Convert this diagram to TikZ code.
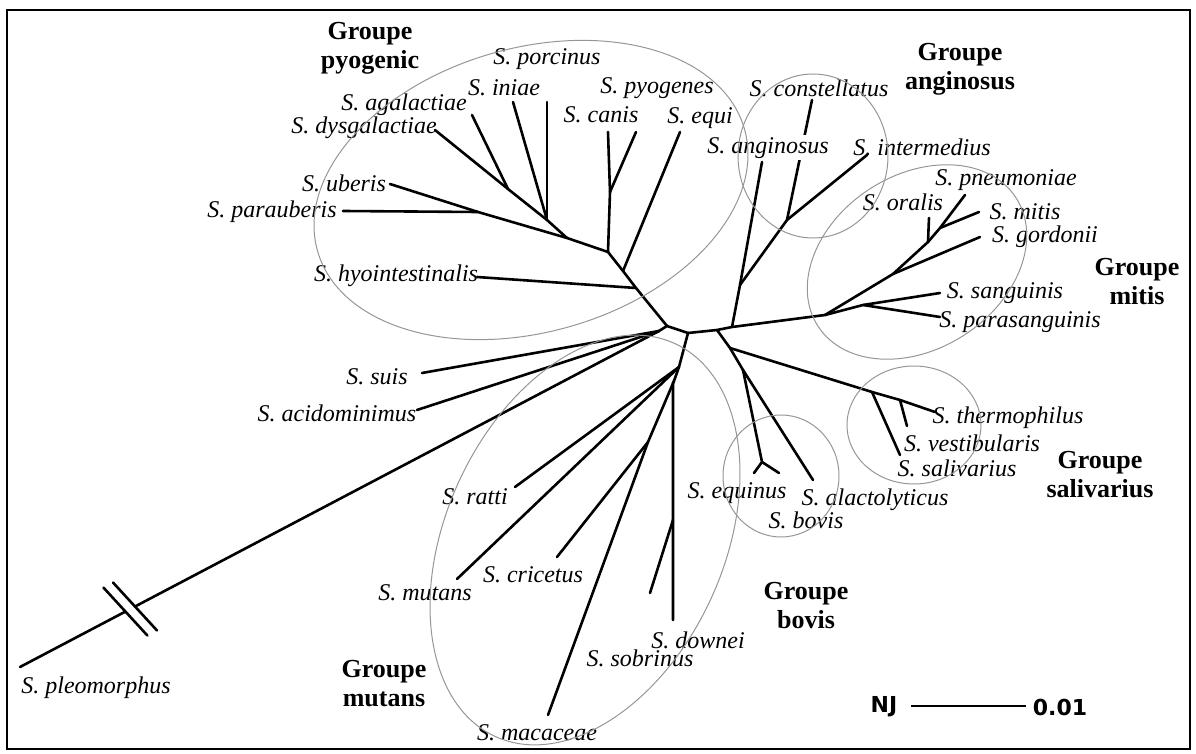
\documentclass[tikz,border=0pt]{standalone}
\usepackage{fontspec}
\setmainfont{Liberation Serif}
\newfontfamily\njfont{DejaVu Sans}
\usepackage{tikz}
\usetikzlibrary{arrows,shapes,positioning,calc}
\definecolor{ringgray}{RGB}{150,150,150}
\tikzstyle{branch} = [line width=1.3pt, line cap=round, color=black]
\tikzstyle{species} = [inner sep=1pt, font=\fontsize{12}{14}\selectfont\itshape]
\tikzstyle{groupe} = [align=center, inner sep=1pt, font=\fontsize{13}{14.5}\selectfont\bfseries]
\tikzstyle{ring} = [line width=0.5pt, color=ringgray]
\tikzstyle{scalelabel} = [inner sep=1pt, font=\njfont\fontsize{11}{12}\selectfont\bfseries]

\begin{document}
\begin{tikzpicture}[x=0.5pt, y=-0.5pt]
\useasboundingbox (0,0) rectangle (1196,754);
\draw[line width=1.1pt] (7,10) rectangle (1190,749);

% Centre
\coordinate (A) at (667,326);
\coordinate (B) at (688,333);
\coordinate (J) at (659,331);
\draw[branch] (J) -- (A) -- (B);

% Groupe pyogenic
\coordinate (H) at (636,288);
\coordinate (E) at (623,271);
\coordinate (P2) at (608,252);
\coordinate (Py) at (610,192);
\coordinate (P1) at (567,238);
\coordinate (Ub) at (478,212);
\coordinate (Pi) at (547,220);
\coordinate (Dg) at (508,189);
\coordinate (canis) at (608,132);
\coordinate (pyogenes) at (636,132);
\coordinate (equi) at (680,132);
\coordinate (hyo) at (477,277);
\coordinate (uberis) at (390,184);
\coordinate (parauberis) at (343,211);
\coordinate (porcinus) at (547,102);
\coordinate (iniae) at (513,102);
\coordinate (agalactiae) at (472,115);
\coordinate (dysgalactiae) at (435,130);
\draw[branch] (A) -- (H) -- (E) -- (P2) -- (P1) -- (Pi) -- (Dg) -- (dysgalactiae);
\draw[branch] (hyo) -- (H);
\draw[branch] (equi) -- (E);
\draw[branch] (P2) -- (Py) -- (canis);
\draw[branch] (Py) -- (pyogenes);
\draw[branch] (P1) -- (Ub) -- (uberis);
\draw[branch] (Ub) -- (parauberis);
\draw[branch] (Pi) -- (porcinus);
\draw[branch] (Pi) -- (iniae);
\draw[branch] (Dg) -- (agalactiae);

% Groupe anginosus
\coordinate (T1) at (717,330);
\coordinate (Aj1) at (732,327);
\coordinate (Aj2) at (740,285);
\coordinate (Aj3) at (787,220);
\coordinate (M0) at (825,315);
\coordinate (anginosus) at (762,162);
\coordinate (intermedius) at (867,155);
\coordinate (constellatus) at (812,100);
\draw[branch] (B) -- (T1) -- (Aj1) -- (M0);
\draw[branch] (Aj1) -- (Aj2) -- (anginosus);
\draw[branch] (Aj2) -- (Aj3) -- (intermedius);
\draw[branch] (Aj3) -- (constellatus);

% Groupe mitis
\coordinate (S) at (863,305);
\coordinate (G) at (893,274);
\coordinate (O) at (928,242);
\coordinate (Pn) at (940,228);
\coordinate (sanguinis) at (940,293);
\coordinate (parasanguinis) at (940,317);
\coordinate (gordonii) at (980,237);
\coordinate (oralis) at (929,218);
\coordinate (pneumoniae) at (965,195);
\coordinate (mitis) at (979,212);
\draw[branch] (M0) -- (S) -- (sanguinis);
\draw[branch] (S) -- (parasanguinis);
\draw[branch] (M0) -- (G) -- (O) -- (Pn) -- (pneumoniae);
\draw[branch] (G) -- (gordonii);
\draw[branch] (O) -- (oralis);
\draw[branch] (Pn) -- (mitis);

% Groupes salivarius et bovis
\coordinate (Sv0) at (730,348);
\coordinate (Bv0) at (743,370);
\coordinate (Bv1) at (762,462);
\coordinate (Sa) at (872,392);
\coordinate (Th) at (900,400);
\coordinate (alactolyticus) at (813,480);
\coordinate (equinus) at (754,473);
\coordinate (bovis) at (779,473);
\coordinate (thermophilus) at (935,412);
\coordinate (vestibularis) at (907,426);
\coordinate (salivarius) at (900,455);
\draw[branch] (T1) -- (Sv0) -- (Bv0) -- (alactolyticus);
\draw[branch] (Bv0) -- (Bv1) -- (equinus);
\draw[branch] (Bv1) -- (bovis);
\draw[branch] (Sv0) -- (Sa) -- (Th) -- (thermophilus);
\draw[branch] (Th) -- (vestibularis);
\draw[branch] (Sa) -- (salivarius);

% Groupe mutans
\coordinate (Mj1) at (679,367);
\coordinate (Mj2) at (674,381);
\coordinate (D1) at (673,520);
\coordinate (C1) at (648,442);
\coordinate (ratti) at (515,487);
\coordinate (mutans) at (457,579);
\coordinate (downei) at (673,620);
\coordinate (sobrinus) at (650,593);
\coordinate (cricetus) at (557,557);
\coordinate (macacae) at (548,715);
\draw[branch] (B) -- (Mj1) -- (ratti);
\draw[branch] (Mj1) -- (mutans);
\draw[branch] (Mj1) -- (Mj2) -- (C1) -- (cricetus);
\draw[branch] (C1) -- (macacae);
\draw[branch] (Mj2) -- (673,383) -- (downei);
\draw[branch] (D1) -- (sobrinus);

% Branches isolees
\coordinate (suis) at (422,373);
\coordinate (acido) at (417,410);
\coordinate (pleo) at (20,667);
\coordinate (brkA) at ($(pleo)!0.165!(J)$);
\coordinate (brkB) at ($(pleo)!0.18!(J)$);
\draw[branch] (J) -- (suis);
\draw[branch] (J) -- (acido);
\draw[branch] (pleo) -- (brkA);
\draw[branch] (brkB) -- (J);
\draw[branch] ($(brkA)+(-22,-24)$) -- ($(brkA)+(22,24)$);
\draw[branch] ($(brkB)+(-22,-24)$) -- ($(brkB)+(22,24)$);

% Species
\node[species] (lporcinus) at (547,59) {S. porcinus};
\node[species] (liniae) at (504,88) {S. iniae};
\node[species] (lpyogenes) at (657,88) {S. pyogenes};
\node[species] (lagalactiae) at (404,105) {S. agalactiae};
\node[species] (lcanis) at (601,115) {S. canis};
\node[species] (lequi) at (700,118) {S. equi};
\node[species] (ldysgalactiae) at (364,128) {S. dysgalactiae};
\node[species] (luberis) at (344,183) {S. uberis};
\node[species] (lparauberis) at (272,212) {S. parauberis};
\node[species] (lhyo) at (396,276) {S. hyointestinalis};
\node[species] (lconstellatus) at (819,88) {S. constellatus};
\node[species, fill=white] (languinosus) at (768,148) {S. anginosus};
\node[species] (lintermedius) at (922,147) {S. intermedius};
\node[species] (lpneumoniae) at (1006,180) {S. pneumoniae};
\node[species] (loralis) at (903,202) {S. oralis};
\node[species] (lmitis) at (1025,212) {S. mitis};
\node[species] (lgordonii) at (1045,237) {S. gordonii};
\node[species] (lsanguinis) at (1005,293) {S. sanguinis};
\node[species] (lparasanguinis) at (1020,322) {S. parasanguinis};
\node[species] (lthermophilus) at (1008,418) {S. thermophilus};
\node[species] (lvestibularis) at (972,443) {S. vestibularis};
\node[species] (lsalivarius) at (957,468) {S. salivarius};
\node[species] (lalactolyticus) at (875,500) {S. alactolyticus};
\node[species] (lequinus) at (737,493) {S. equinus};
\node[species] (lbovis) at (806,520) {S. bovis};
\node[species] (lsuis) at (377,377) {S. suis};
\node[species] (lacido) at (337,413) {S. acidominimus};
\node[species] (lratti) at (475,497) {S. ratti};
\node[species] (lmutans) at (425,593) {S. mutans};
\node[species] (lcricetus) at (533,575) {S. cricetus};
\node[species] (ldownei) at (698,640) {S. downei};
\node[species] (lsobrinus) at (640,658) {S. sobrinus};
\node[species] (lmacacae) at (537,733) {S. macaceae};
\node[species] (lpleo) at (96,688) {S. pleomorphus};

% Groupes
\node[groupe] (gpyo) at (370,48) {Groupe\\pyogenic};
\node[groupe] (gang) at (960,69) {Groupe\\anginosus};
\node[groupe] (gmitis) at (1137,282) {Groupe\\mitis};
\node[groupe] (gsal) at (1100,475) {Groupe\\salivarius};
\node[groupe] (gbovis) at (806,606) {Groupe\\bovis};
\node[groupe] (gmutans) at (384,684) {Groupe\\mutans};

% Ellipses
\draw[ring, rotate around={16:(531,190)}] (531,190) ellipse [x radius=222, y radius=142];
\draw[ring] (813,156) ellipse [x radius=75, y radius=82];
\draw[ring, rotate around={33:(917,262)}] (917,262) ellipse [x radius=118, y radius=87];
\draw[ring] (914,425) ellipse [x radius=67, y radius=59];
\draw[ring] (781,476) ellipse [x radius=58, y radius=61];
\draw[ring, rotate around={65.5:(585,540)}] (585,540) ellipse [x radius=216, y radius=139];

% Echelle
\node[scalelabel] (nj) at (884,707) {NJ};
\node[scalelabel] (scale) at (1060,707) {0.01};
\coordinate (sb1) at (911,706);
\coordinate (sb2) at (1026,706);
\draw[line width=1.3pt] (sb1) -- (sb2);
\end{tikzpicture}
\end{document}
